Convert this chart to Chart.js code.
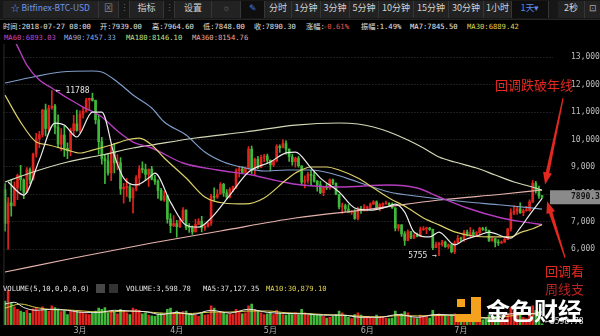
<!DOCTYPE html>
<html>
<head>
<meta charset="utf-8">
<script src="https://cdn.jsdelivr.net/npm/chart.js@4.4.1/dist/chart.umd.min.js"></script>
<style>
  body { margin:0; width:600px; height:336px; background:#000; overflow:hidden; position:relative;
         font-family:"DejaVu Sans Mono","Noto Sans CJK SC",monospace; color:#e2e2e2; }
  canvas { position:absolute; left:0; }
  #bar { position:absolute; left:0; top:0; width:600px; height:19px; background:#171717; border-bottom:1px solid #262626; }
  .btn { position:absolute; top:1px; height:17px; line-height:17px; text-align:center; font:9px "Noto Sans CJK SC",sans-serif;
         color:#d4d4d4; background:#222; border-right:1px solid #363636; white-space:nowrap; overflow:hidden; }
  .txt { position:absolute; font-size:7.2px; line-height:9px; white-space:pre; z-index:3; }
  .red { position:absolute; font:13px "Noto Sans CJK SC",sans-serif; color:#e2281f; line-height:14px; z-index:3; white-space:nowrap; }
  .sq { position:absolute; background:#f4a21e; z-index:3; }
</style>
</head>
<body>
<div id="bar"></div>
<div id="info"></div>
<canvas id="main" width="600" height="239" style="top:44px"></canvas>
<canvas id="vol" width="600" height="53" style="top:283px"></canvas>

<div class="red" style="left:495px;top:78px">回调跌破年线</div>
<div class="red" style="left:545px;top:264px">回调看</div>
<div class="red" style="left:545px;top:282px;color:#b82222">周线支</div>

<div class="sq" style="left:457px;top:299px;width:8px;height:8px"></div>
<div class="sq" style="left:471px;top:297px;width:10px;height:25px"></div>
<div class="sq" style="left:455px;top:314px;width:26px;height:8px"></div>
<div style="position:absolute;left:486px;top:295px;font:bold 24px 'Noto Sans CJK SC',sans-serif;color:#fff;z-index:3;line-height:30px">金色财经</div>

<script>
// days from 2018-02-05, plus a few empty days on the right
const labels = [];
for (let i = 0; i < 176; i++) labels.push(new Date(Date.UTC(2018, 1, 5 + i)).toISOString().slice(0, 10));
const monthTicks = {'2018-03-01':'3月','2018-04-01':'4月','2018-05-01':'5月','2018-06-01':'6月','2018-07-01':'7月'};
const priceTicks = [6000,7000,8000,9000,10000,11000,12000,13000];

const open = [
  8170,6930,7690,7580,8230,8680,8530,8070,8890,8520,9470,10030,10170,11070,10400,11150,11220,10450,9830,10160,9680,9590,10320,10570,
  10330,10920,11030,11440,11500,11430,10720,9920,9300,9220,8780,9550,9140,9150,8190,8250,8270,7870,8190,8600,8920,8900,8720,8920,8550,8470,8140,7790,7940,7100,6850,
  6930,6820,7050,7420,6790,6780,6620,6900,7020,6770,6830,6940,7920,7890,8010,8360,8050,7890,8170,8280,8860,8920,8800,8940,9650,8870,9280,8980,9350,9390,
  9240,9070,9220,9750,9700,9850,9650,9370,9190,9320,9040,8440,8500,8730,8690,8480,8340,8060,8240,8230,8530,8400,8000,7540,7580,7460,7340,7350,7120,7470,7400,
  7500,7520,7640,7720,7490,7620,7650,7680,7620,7500,6760,6880,6550,6310,6640,6400,6500,6460,6710,6740,6760,6720,6050,6160,6170,6250,6090,6160,5900,6220,
  6390,6360,6620,6510,6600,6530,6600,6760,6720,6680,6300,6380,6240,6220,6250,6350,6740,7320,7380,7470,7330,7400,7400,7720,8400,8170,7939];
const high = [
  8390,7880,8540,8450,8740,9060,8560,8970,8960,9500,10220,10300,11100,11290,11250,11788,11280,10900,10400,10500,9880,10420,10880,11070,
  11050,11180,11500,11510,11690,11440,10890,10080,9430,9480,9740,9860,9450,9340,8400,8580,8350,8240,8680,9050,9180,9100,8920,9020,8690,8530,8220,8110,7960,7290,7220,
  7050,7130,7510,7430,6930,6850,7080,7110,7190,6890,6970,8000,8230,8170,8430,8400,8170,8230,8300,8930,9030,9010,9000,9740,9760,9320,9380,9430,9460,9470,
  9260,9240,9810,9800,9990,9950,9660,9470,9360,9380,9040,8670,8800,8880,8840,8500,8480,8270,8390,8560,8550,8420,8010,7680,7640,7620,7400,7440,7530,7560,7620,
  7570,7690,7770,7760,7660,7690,7750,7690,7690,7500,6900,6890,6640,6700,6650,6560,6580,6800,6820,6800,6790,6730,6250,6240,6320,6290,6190,6170,6300,6500,
  6440,6680,6690,6780,6700,6640,6790,6790,6800,6690,6420,6390,6340,6300,6400,6750,7470,7590,7550,7690,7460,7560,7800,8500,8470,8300,7964.6];
const low = [
  6650,5990,7200,7560,7800,8140,7840,8070,8390,8520,9350,9700,10080,10130,10300,11100,10200,9740,9580,9380,9300,9400,10150,10300,
  10250,10780,11000,11060,11400,10570,9460,9100,8390,8700,8500,8780,8900,7990,7670,7920,7740,7310,8120,8310,8780,8510,8290,8520,8360,7850,7770,7740,6940,6600,6820,
  6430,6780,7030,6710,6610,6530,6620,6890,6620,6680,6800,6860,7740,7850,8000,7920,7830,7870,8090,8210,8620,8760,8800,8920,8750,8690,8930,8980,9190,9140,
  8850,9010,9180,9530,9690,9460,9200,9060,8990,8990,8350,8230,8400,8330,8440,8110,8020,7950,8170,8180,8350,7980,7460,7300,7350,7340,7260,7080,7060,7300,7380,
  7390,7460,7630,7470,7390,7480,7640,7550,7480,6660,6660,6460,6130,6300,6380,6390,6440,6440,6680,6560,6680,5980,6050,5755,6100,6060,6020,5860,5830,6210,
  6290,6280,6470,6450,6460,6460,6500,6680,6640,6280,6290,6080,6130,6200,6240,6340,6650,7250,7260,7300,7220,7380,7380,7700,8040,7850,7848];
const close = [
  6930,7690,7580,8230,8680,8530,8070,8890,8520,9470,10030,10170,11070,10400,11150,11220,10450,9830,10160,9680,9590,10320,10570,10330,
  10920,11030,11440,11500,11430,10720,9920,9300,9220,8780,9550,9140,9150,8190,8250,8270,7870,8190,8600,8920,8900,8720,8920,8550,8470,8140,7790,7940,7100,6850,6930,
  6820,7050,7420,6790,6780,6620,6900,7020,6770,6830,6940,7920,7890,8010,8360,8050,7890,8170,8280,8860,8920,8800,8940,9650,8870,9280,8980,9350,9390,9240,
  9070,9220,9750,9700,9850,9650,9370,9190,9320,9040,8440,8500,8730,8690,8480,8340,8060,8240,8230,8530,8400,8000,7540,7580,7460,7340,7350,7120,7470,7400,7500,
  7520,7640,7720,7490,7620,7650,7680,7620,7500,6760,6880,6550,6310,6640,6400,6500,6460,6710,6740,6760,6720,6050,6160,6170,6250,6090,6160,5900,6220,6390,
  6360,6620,6510,6600,6530,6600,6760,6720,6680,6300,6380,6240,6220,6250,6350,6740,7320,7380,7470,7330,7400,7400,7720,8400,8170,7940,7890.3];
const volume = [
  68000,100000,62000,52000,45000,40000,36000,42000,33000,46000,50000,40000,52000,45000,40000,55000,50000,46000,38000,40000,30000,42000,38000,40000,
  38000,34000,32000,30000,34000,40000,48000,45000,50000,35000,40000,38000,32000,45000,42000,35000,30000,48000,45000,42000,32000,35000,28000,26000,25000,32000,34000,30000,45000,48000,35000,
  40000,35000,38000,40000,32000,30000,28000,25000,35000,28000,30000,55000,48000,35000,38000,35000,30000,32000,30000,45000,40000,32000,35000,55000,60000,45000,40000,35000,30000,32000,
  35000,30000,42000,35000,30000,28000,32000,30000,35000,30000,45000,35000,28000,32000,30000,28000,30000,25000,20000,22000,25000,30000,40000,35000,28000,22000,18000,30000,35000,28000,25000,
  25000,22000,20000,28000,25000,22000,20000,18000,20000,40000,30000,32000,38000,35000,25000,20000,18000,28000,22000,25000,20000,42000,30000,32000,30000,28000,25000,30000,32000,28000,
  22000,28000,25000,22000,20000,18000,16000,15000,18000,28000,22000,25000,20000,15000,15000,32000,50000,40000,35000,30000,22000,18000,35000,55000,42000,38000,3598.78];

// moving average lines as [day index, value]
const ma7Pts = [[1,8450],[6,7970],[11,9250],[16,10600],[19,10530],[23,10090],[28,11000],[31,11000],[35,9430],[38,8590],[42,8340],[46,8590],[48,8770],[53,7710],[58,6870],[62,6800],[66,7130],[72,7970],[78,8810],[85,9180],[90,9510],[93,9540],[98,8960],[101,8590],[107,8080],[112,7500],[117,7420],[122,7530],[125,7640],[128,7350],[131,6620],[136,6440],[139,6620],[144,6150],[147,6330],[152,6510],[155,6620],[160,6440],[162,6400],[165,6770],[168,7250],[172,7845.50]];
const ma30Pts = [[0,11620],[5,10634],[10,9904],[14,9798],[20,9613],[24,9505],[28,9613],[34,9798],[39,9980],[43,10050],[47,9798],[51,9323],[58,8593],[64,7900],[70,7680],[77,7646],[83,7865],[90,8520],[93,8775],[98,8995],[103,8995],[107,8885],[113,8593],[118,8228],[123,7865],[129,7500],[134,7135],[139,6880],[144,6625],[150,6475],[157,6440],[162,6440],[165,6600],[169,6740],[172,6889.42]];
const ma60Pts = [[0,14300],[4,13400],[7,12719],[11,12171],[15,11879],[20,11514],[25,11185],[31,10820],[36,10309],[41,9907],[47,9688],[57,9140],[68,8885],[79,8703],[89,8447],[95,8337],[107,8265],[123,8337],[132,8228],[139,7900],[148,7498],[159,7133],[166,6990],[172,6893.03]];
const ma90Pts = [[0,12062],[9,12281],[18,12463],[28,12500],[31,12463],[36,12098],[41,11623],[47,11149],[51,10637],[58,10163],[64,9542],[70,9177],[77,8958],[83,8848],[90,8885],[98,8885],[104,8775],[113,8447],[123,8082],[134,7900],[139,7827],[148,7717],[159,7608],[172,7457.33]];
const ma180Pts = [[0,8447],[9,8812],[20,9177],[31,9433],[41,9688],[47,9798],[61,10053],[77,10272],[93,10524],[107,10601],[113,10564],[118,10455],[123,10272],[129,9980],[134,9688],[139,9359],[144,9177],[151,8958],[157,8702],[163,8447],[168,8290],[172,8146.10]];
const ma360Pts = [[0,5160],[22,5672],[47,6219],[69,6657],[93,7132],[117,7456],[139,7790],[159,8000],[172,8154.76]];
const volMa5Pts = [[0,60000],[3,65000],[6,50000],[10,42000],[15,45000],[20,42000],[25,36000],[30,36000],[35,42000],[40,40000],[45,38000],[50,30000],[55,36000],[60,30000],[66,42000],[72,34000],[78,45000],[84,36000],[90,33000],[96,32000],[102,28000],[108,28000],[114,22000],[120,22000],[126,30000],[132,22000],[138,30000],[144,28000],[150,20000],[156,20000],[162,32000],[168,32000],[172,37127.35]];
const volMa10Pts = [[0,48000],[5,60000],[10,50000],[15,44000],[20,43000],[25,40000],[30,37000],[35,38000],[40,40000],[45,38000],[50,34000],[55,33000],[60,33000],[66,37000],[72,37000],[78,40000],[84,40000],[90,35000],[96,33000],[102,30000],[108,28000],[114,25000],[120,23000],[126,27000],[132,26000],[138,27000],[144,28000],[150,24000],[156,20000],[162,26000],[168,32000],[172,30879.10]];

const RED = '#e0231e', GREEN = '#40b83b';
const last = close.length - 1;
const candleColor = close.map((c, i) => c >= open[i] ? RED : GREEN);

// toolbar
const toolbar = [
  ['☆ Bitfinex-BTC-USD', 3, 95, '#6f95e8'], ['⊠', 99, 19, '#8a8a8a'], ['⋮', 119, 10, '#666', '#171717'],
  ['指标', 130, 33], ['⋮', 164, 10, '#666', '#171717'], ['设置', 175, 36], ['☼', 212, 28, '#777'],
  ['✎', 241, 23, '#4f7fe0', '#0f0f0f'], ['分时', 265, 26], ['1分钟', 292, 28], ['3分钟', 321, 28],
  ['5分钟', 350, 28], ['10分钟', 379, 34], ['15分钟', 414, 34], ['30分钟', 449, 34], ['1小时', 484, 27],
  ['1天▾', 512, 36, '#5b8be5', '#0e0e0e'], ['2秒', 558, 26], ['⊡', 585, 15, '#aaa']
];
const bar = document.getElementById('bar');
toolbar.forEach(([t, x, w, col, bg]) => {
  const d = document.createElement('div');
  d.className = 'btn'; d.textContent = t;
  d.style.left = x + 'px'; d.style.width = w + 'px';
  if (col) d.style.color = col;
  if (bg) d.style.background = bg;
  if (x === 3) d.style.fontSize = '8.5px';
  bar.appendChild(d);
});

const fmt = v => v.toLocaleString('en-US', { minimumFractionDigits: 2, maximumFractionDigits: 2 });
const lastOf = pts => pts[pts.length - 1][1].toFixed(2);
const chg = (close[last] / open[last] - 1) * 100;
const amp = (high[last] - low[last]) / low[last] * 100;
const infoItems = [
  ['时间:' + labels[last] + ' 08:00', 3, 22],
  ['开:' + open[last].toFixed(2), 100, 22], ['高:' + high[last].toFixed(2), 152, 22],
  ['低:' + low[last].toFixed(2), 203, 22], ['收:' + close[last].toFixed(2), 254, 22],
  ['涨幅:', 306, 22], [chg.toFixed(2) + '%', 323, 22, '#e2574c'], ['振幅:' + amp.toFixed(2) + '%', 361, 22],
  ['MA7:' + lastOf(ma7Pts), 410, 22, '#ececec'], ['MA30:' + lastOf(ma30Pts), 467, 22, '#e3d34c'],
  ['MA60:' + lastOf(ma60Pts), 4, 33, '#c447c4'], ['MA90:' + lastOf(ma90Pts), 64, 33, '#8eaee0'],
  ['MA180:' + lastOf(ma180Pts), 126, 33, '#b9e08e'], ['MA360:' + lastOf(ma360Pts), 192, 33, '#e3a9a3'],
  ['VOLUME(5,10,0,0,0,0)', 3, 284], ['VOLUME:' + fmt(volume[last]), 126, 284],
  ['MA5:' + fmt(volMa5Pts[volMa5Pts.length - 1][1]), 203, 284],
  ['MA10:' + fmt(volMa10Pts[volMa10Pts.length - 1][1]), 266, 284, '#e3d34c']
];
const info = document.getElementById('info');
infoItems.forEach(([t, x, y, col]) => {
  const d = document.createElement('div');
  d.className = 'txt'; d.textContent = t;
  d.style.left = x + 'px'; d.style.top = y + 'px';
  if (col) d.style.color = col;
  info.appendChild(d);
});
[[96, '#474747'], [109, '#333']].forEach(([x, c]) => {
  const d = document.createElement('div');
  d.style.cssText = 'position:absolute;top:284px;width:9px;height:9px;z-index:3;left:' + x + 'px;background:' + c;
  info.appendChild(d);
});

function sparse(pts) {
  const a = labels.map(() => null);
  pts.forEach(p => { a[p[0]] = p[1]; });
  return a;
}
function maLine(pts, color, w) {
  return { type: 'line', data: sparse(pts), borderColor: color, borderWidth: w || 1.2, pointRadius: 0,
           spanGaps: true, cubicInterpolationMode: 'monotone', order: 0 };
}
function redArrow(ctx, x0, y0, x1, y1) {
  const len = Math.hypot(x1 - x0, y1 - y0), ux = (x1 - x0) / len, uy = (y1 - y0) / len, nx = -uy, ny = ux;
  const hx = x1 - ux * 12, hy = y1 - uy * 12;
  ctx.beginPath();
  ctx.moveTo(x0 + nx * 0.6, y0 + ny * 0.6);
  ctx.lineTo(hx + nx * 1.8, hy + ny * 1.8);
  ctx.lineTo(hx + nx * 4.5, hy + ny * 4.5);
  ctx.lineTo(x1, y1);
  ctx.lineTo(hx - nx * 4.5, hy - ny * 4.5);
  ctx.lineTo(hx - nx * 1.8, hy - ny * 1.8);
  ctx.lineTo(x0 - nx * 0.6, y0 - ny * 0.6);
  ctx.closePath();
  ctx.fill();
}

const mainNotes = {
  id: 'mainNotes',
  afterDraw(c) {
    const { ctx, chartArea: a, scales: { x, y } } = c;
    ctx.save();
    ctx.strokeStyle = '#2c2c2c';
    ctx.beginPath(); ctx.moveTo(a.left + 0.5, a.top); ctx.lineTo(a.left + 0.5, a.bottom); ctx.stroke();
    ctx.font = '8px "DejaVu Sans Mono"'; ctx.fillStyle = '#e6e6e6'; ctx.textBaseline = 'middle';
    const hi = high.indexOf(Math.max(...high)), lo = low.indexOf(Math.min(...low));
    ctx.textAlign = 'left';
    ctx.fillText('← ' + high[hi], x.getPixelForValue(hi) + 4, y.getPixelForValue(high[hi]));
    ctx.textAlign = 'right';
    ctx.fillText(low[lo] + ' →', x.getPixelForValue(lo) - 2, y.getPixelForValue(low[lo]));
    const py = y.getPixelForValue(close[last]);
    ctx.fillStyle = '#8a8a8a'; ctx.fillRect(a.right - 3, py - 7, 50, 14);
    ctx.fillStyle = '#111'; ctx.textAlign = 'left'; ctx.font = 'bold 8px "DejaVu Sans Mono"';
    ctx.fillText(close[last].toFixed(1), a.right + 18, py);
    const lx = x.getPixelForValue(last);
    ctx.fillStyle = '#e2281f';
    redArrow(ctx, lx + 21, y.getPixelForValue(11510), lx + 3, y.getPixelForValue(8360));
    redArrow(ctx, lx + 23, y.getPixelForValue(5680), lx + 5, y.getPixelForValue(7745));
    ctx.restore();
  }
};

new Chart('main', {
  type: 'bar',
  data: {
    labels,
    datasets: [
      maLine(ma7Pts, '#ececec'), maLine(ma30Pts, '#dccf68'), maLine(ma60Pts, '#b53dbd', 1.4),
      maLine(ma90Pts, '#7f9dc8'), maLine(ma180Pts, '#d3d8b4'), maLine(ma360Pts, '#e6b3ac'),
      { data: close.map((c, i) => [open[i], c]), backgroundColor: candleColor, barThickness: 2, minBarLength: 1, grouped: false, order: 1 },
      { data: close.map((c, i) => [low[i], high[i]]), backgroundColor: candleColor, barThickness: 1, grouped: false, order: 2 }
    ]
  },
  options: {
    responsive: false, animation: false, events: [],
    layout: { padding: { left: 3.44, right: 0, top: 0, bottom: 0 } },
    plugins: { legend: { display: false }, tooltip: { enabled: false } },
    scales: {
      x: { display: false, offset: true },
      y: {
        position: 'right', min: 4759, max: 13486,
        afterBuildTicks: s => { s.ticks = priceTicks.map(v => ({ value: v })); },
        afterFit: s => { s.width = 47; s.paddingTop = 0; s.paddingBottom = 0; },
        grid: { color: '#3a3a3a', drawTicks: false },
        border: { display: false, dash: [1, 2] },
        ticks: { color: '#bcbcbc', padding: 18, font: { size: 8, family: 'DejaVu Sans Mono' } }
      }
    }
  },
  plugins: [mainNotes]
});

const volNotes = {
  id: 'volNotes',
  afterDraw(c) {
    const { ctx, chartArea: a, scales: { x } } = c;
    ctx.save();
    ctx.strokeStyle = '#2c2c2c';
    ctx.beginPath(); ctx.moveTo(a.left + 0.5, a.top - 7); ctx.lineTo(a.left + 0.5, a.bottom); ctx.stroke();
    ctx.font = '8px "DejaVu Sans Mono"'; ctx.fillStyle = '#e0e0e0'; ctx.textBaseline = 'middle';
    ctx.fillText('←' + volume[last].toFixed(2), x.getPixelForValue(last) + 3, a.bottom - 3);
    ctx.restore();
  }
};

new Chart('vol', {
  type: 'bar',
  data: {
    labels,
    datasets: [
      maLine(volMa5Pts, '#e8e8e8', 1), maLine(volMa10Pts, '#dccf4a', 1),
      { data: volume, backgroundColor: candleColor, barThickness: 2, order: 1 }
    ]
  },
  options: {
    responsive: false, animation: false, events: [],
    layout: { padding: { left: 3.44, right: 47, top: 7, bottom: 0 } },
    plugins: { legend: { display: false }, tooltip: { enabled: false } },
    scales: {
      x: {
        offset: true,
        grid: { display: false, drawTicks: false },
        border: { display: false },
        afterFit: s => { s.height = 11; s.paddingLeft = 0; s.paddingRight = 0; },
        ticks: {
          autoSkip: false, maxRotation: 0, padding: 1, color: '#b0b0b0',
          font: { size: 8, family: '"DejaVu Sans","Noto Sans CJK SC"' },
          callback: (v, i) => monthTicks[labels[i]] || ''
        }
      },
      y: { display: false, min: 0, max: 100000 }
    }
  },
  plugins: [volNotes]
});
</script>
</body>
</html>
